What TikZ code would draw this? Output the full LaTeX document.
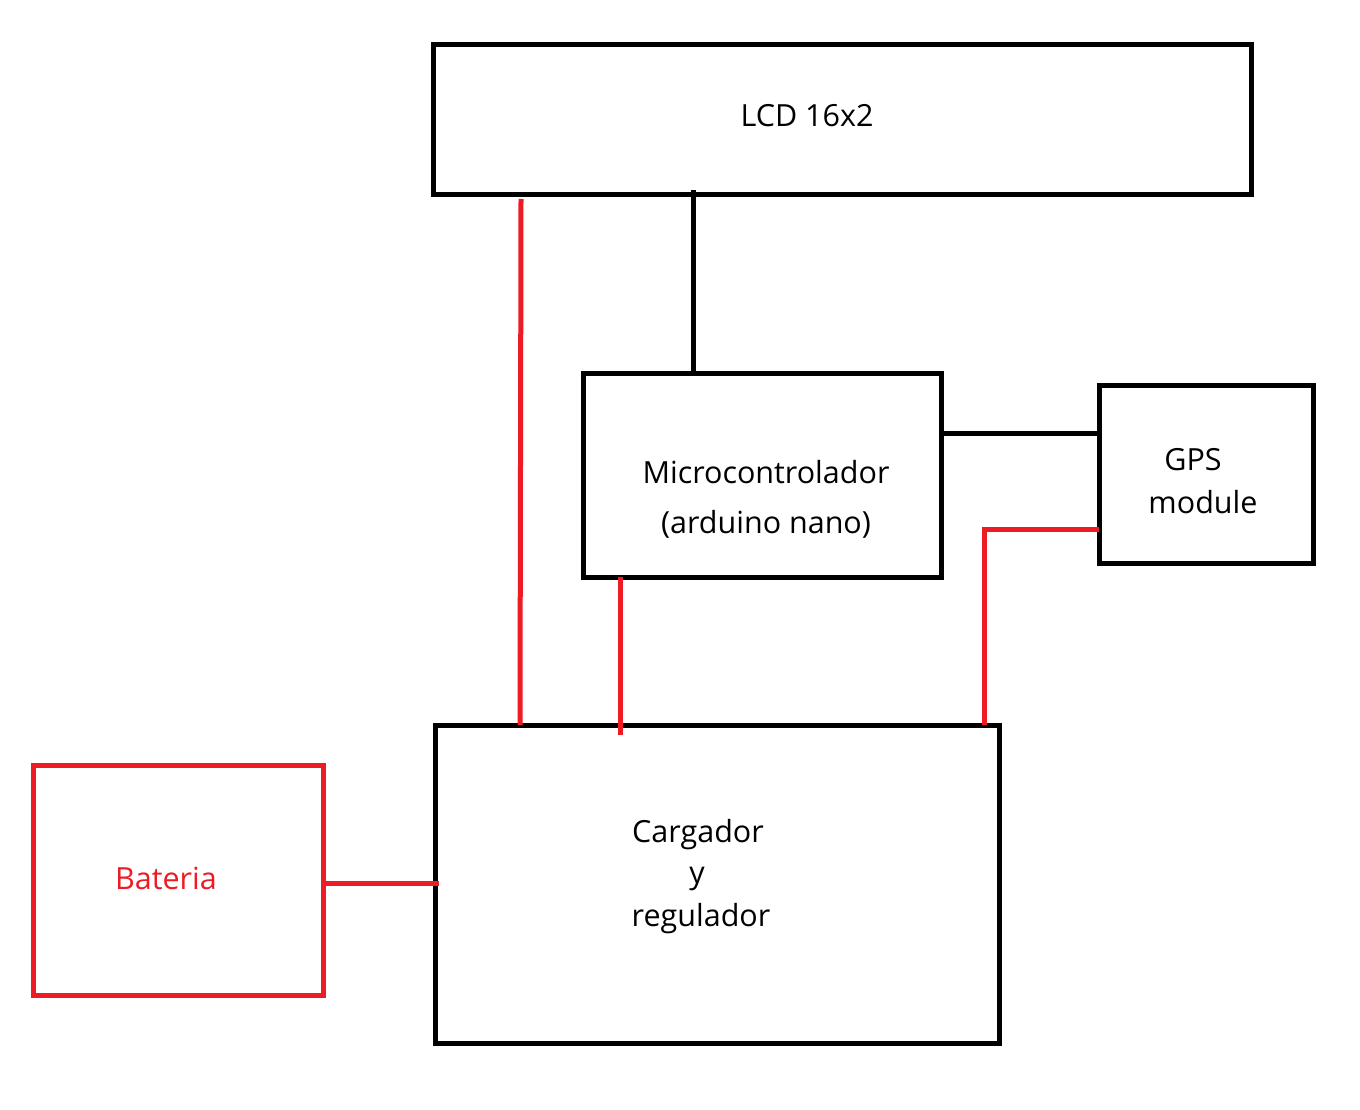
\documentclass[tikz,border=0pt]{standalone}
\usepackage{fontspec}
\setmainfont{Open Sans}
\definecolor{pred}{RGB}{237,28,36}
\begin{document}
\begin{tikzpicture}[x=1pt,y=-1pt,
  blk/.style={draw=black,line width=5pt,inner sep=0pt,outer sep=0pt,minimum width=#1},
  rblk/.style={draw=pred,line width=5pt,inner sep=0pt,outer sep=0pt},
  txt/.style={inner sep=0pt,font=\fontsize{30.5}{36}\selectfont},
  bline/.style={draw=black,line width=5pt},
  rline/.style={draw=pred,line width=5pt}]
\useasboundingbox (0,0) rectangle (1360,1110);
\fill[white] (0,0) rectangle (1360,1110);
\node[blk=818pt,minimum height=150pt] (lcd) at (842,120) {};
\node[blk=358pt,minimum height=204pt] (micro) at (762,475) {};
\node[blk=214pt,minimum height=178pt] (gps) at (1206,474) {};
\node[blk=564pt,minimum height=318pt] (carg) at (717,884) {};
\node[rblk,minimum width=290pt,minimum height=230pt] (bat) at (178,880) {};
\node[txt] (tlcd) at (807,116) {LCD 16x2};
\node[txt] (tm1) at (766,472) {Microcontrolador};
\node[txt] (tm2) at (766,524) {(arduino nano)};
\node[txt] (tg1) at (1193,460) {GPS};
\node[txt] (tg2) at (1203,502) {module};
\node[txt] (tc1) at (698,835) {Cargador};
\node[txt] (tc2) at (697,879) {y};
\node[txt] (tc3) at (701,919) {regulador};
\node[txt,text=pred] (tb) at (166,878) {Bateria};
% connectors
\coordinate (bs) at ([yshift=-3pt]bat.east);
\draw[bline] ([xshift=260pt,yshift=5pt]lcd.south west) -- ([xshift=110pt]micro.north west);
\draw[bline] ([yshift=42pt]micro.east) -- ([yshift=42pt]micro.east -| gps.west);
\draw[rline] ([xshift=88pt,yshift=-4pt]lcd.south west) -- ([xshift=85pt]carg.north west);
\draw[rline] ([xshift=37pt]micro.south west) -- ([xshift=185pt,yshift=-10pt]carg.north west);
\draw[rline] ([yshift=-55pt]gps.west) -| ([xshift=549pt]carg.north west);
\draw[rline] (bs) -- ([xshift=4pt]bs -| carg.west);
\end{tikzpicture}
\end{document}
